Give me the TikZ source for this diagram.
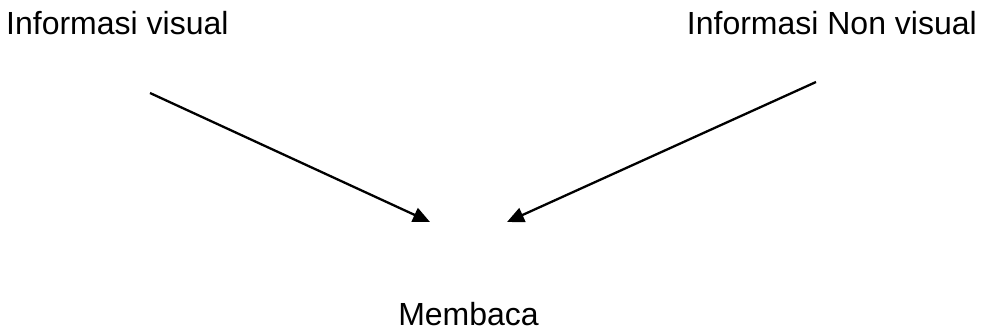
\documentclass[tikz,border=0pt]{standalone}
\usepackage{fontspec}
\setmainfont{Liberation Sans}
\usetikzlibrary{arrows.meta}
\begin{document}
\begin{tikzpicture}[x=1pt,y=-1pt,
  label/.style={inner sep=0pt,font=\fontsize{32}{36}\selectfont},
  flow/.style={line width=2.3pt,-{Triangle[length=17pt,width=15pt]}}]
  \useasboundingbox (0,0) rectangle (981,332);
  % source labels and the target label
  \node[label,anchor=base west] (vis) at (6,34) {Informasi visual};
  \node[label,anchor=base east] (nonvis) at (977,34) {Informasi Non visual};
  \node[label,anchor=base] (baca) at (468.5,325) {Membaca};
  % arrow end points
  \coordinate (visStart) at (150,93);
  \coordinate (visEnd) at (430,222);
  \coordinate (nonStart) at (816,82);
  \coordinate (nonEnd) at (507,222);
  \draw[flow] (visStart) -- (visEnd);
  \draw[flow] (nonStart) -- (nonEnd);
\end{tikzpicture}
\end{document}
